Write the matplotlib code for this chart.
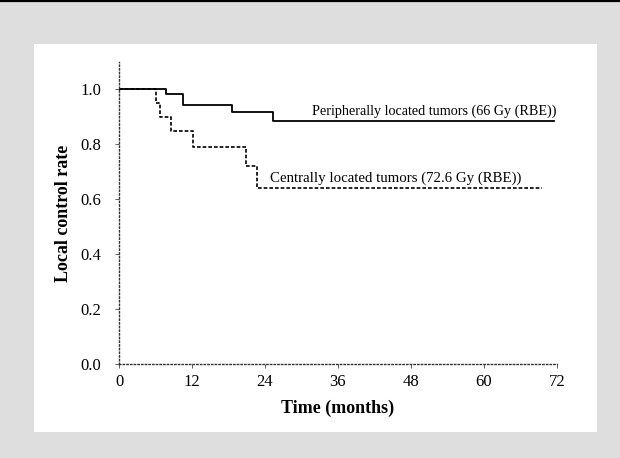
import matplotlib.pyplot as plt
from matplotlib.patches import Rectangle
from matplotlib.lines import Line2D

# Kaplan-Meier step data
peripheral_time = [0, 7.7, 10.6, 18.6, 25.3, 71.5]
peripheral_rate = [1.0, 0.982, 0.942, 0.917, 0.884, 0.884]
central_time = [0, 6.0, 6.8, 8.6, 12.2, 20.9, 22.7, 69.5]
central_rate = [1.0, 0.95, 0.90, 0.85, 0.79, 0.72, 0.64, 0.64]

x_ticks = [0, 12, 24, 36, 48, 60, 72]
y_ticks = [0.0, 0.2, 0.4, 0.6, 0.8, 1.0]

plt.rcParams["font.family"] = ["Liberation Serif", "DejaVu Serif"]

W, H = 620, 458
fig = plt.figure(figsize=(6.2, 4.58), dpi=100, facecolor="#dedede")

# white inner panel inside the halftone frame, black rule at top
fig.patches.append(Rectangle((34 / W, 1 - 432 / H), (597 - 34) / W, (432 - 44) / H,
                             transform=fig.transFigure, facecolor="white",
                             edgecolor="none", zorder=-5))
fig.lines.append(Line2D([0, 1], [1 - 1 / H, 1 - 1 / H], transform=fig.transFigure,
                        color="black", lw=1.6))

ax = fig.add_axes([119 / W, 1 - 364 / H, (557 - 119) / W, (364 - 62) / H])
ax.set_zorder(5)
ax.set_facecolor("none")

ax.step(peripheral_time, peripheral_rate, where="post", color="black", lw=1.3)
ax.step(central_time, central_rate, where="post", color="black", lw=1.2,
        linestyle=(0, (2.2, 1.2)))

ax.text(72, 0.907, "Peripherally located tumors (66 Gy (RBE))", ha="right",
        va="baseline", fontsize=10.2)
ax.text(24.8, 0.662, "Centrally located tumors (72.6 Gy (RBE))", ha="left",
        va="baseline", fontsize=10.7)

ax.set_xlim(0, 72)
ax.set_ylim(0, 1.1)
ax.set_xticks(x_ticks)
ax.set_yticks(y_ticks)
ax.set_yticklabels([f"{v:.1f}" for v in y_ticks])
ax.tick_params(labelsize=12, length=3, width=0.6, color="#444444")
ax.tick_params(axis="x", pad=4)
ax.tick_params(axis="y", pad=10)

for side in ["top", "right"]:
    ax.spines[side].set_visible(False)
for side in ["left", "bottom"]:
    ax.spines[side].set_linestyle(":")
    ax.spines[side].set_linewidth(1.0)
    ax.spines[side].set_color("#333333")

ax.set_xlabel("Time (months)", fontsize=13, fontweight="bold", labelpad=7)
ax.set_ylabel("Local control rate", fontsize=13, fontweight="bold", labelpad=6)

fig.savefig("out.png", dpi=100, facecolor=fig.get_facecolor())
